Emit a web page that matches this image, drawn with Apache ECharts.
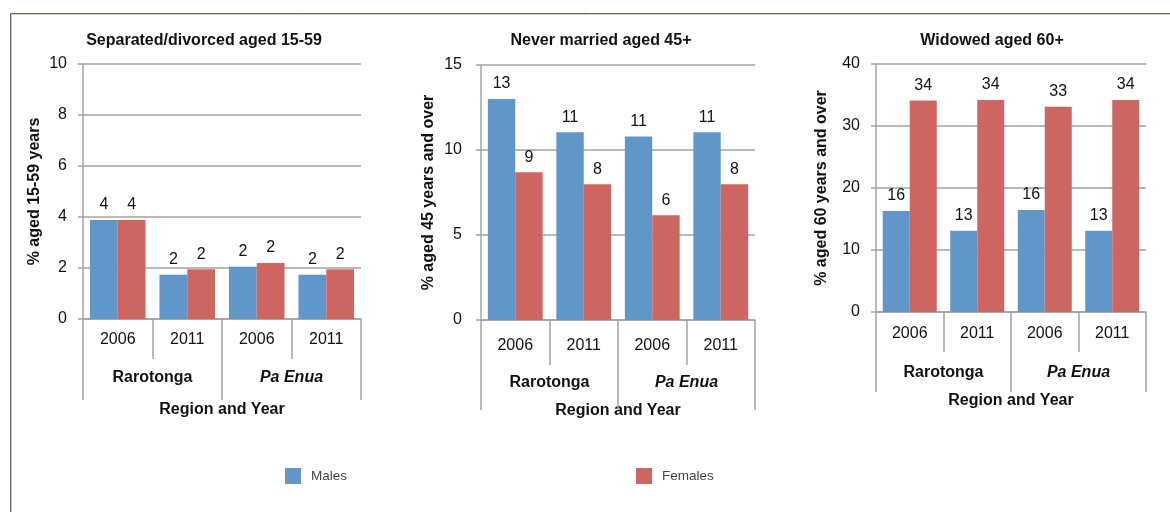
<!DOCTYPE html>
<html>
<head>
<meta charset="utf-8">
<script src="https://cdn.jsdelivr.net/npm/echarts@6/dist/echarts.min.js"></script>
<style>
html,body{margin:0;padding:0;background:#fff;}
#c{width:1170px;height:512px;}
</style>
</head>
<body>
<div id="c"></div>
<script>
// ---- data ----
const years = ['2006', '2011', '2006', '2011'];
const regions = ['Rarotonga', 'Pa Enua'];
const seriesNames = ['Males', 'Females'];
const chartTitles = ['Separated/divorced aged 15-59', 'Never married aged 45+', 'Widowed aged 60+'];
const yNames = ['% aged 15-59 years', '% aged 45 years and over', '% aged 60 years and over'];
const xName = 'Region and Year';
const sepMales = [3.88, 1.74, 2.05, 1.74];
const sepFemales = [3.88, 1.95, 2.2, 1.95];
const nevMales = [13.0, 11.04, 10.8, 11.04];
const nevFemales = [8.69, 7.98, 6.16, 7.98];
const widMales = [16.3, 13.1, 16.45, 13.1];
const widFemales = [34.1, 34.2, 33.1, 34.2];
const yMax = [10, 15, 40];
const yInterval = [2, 5, 10];

// ---- styles / layout ----
const FONT = '"Liberation Sans", Arial, sans-serif';
const BLUE = '#6196c9';
const RED = '#cd6660';
const GRID_C = '#a3a3a3';
const TXT = '#111';
const grids = [
  {left: 83, right: 809, top: 64, bottom: 193},
  {left: 481, right: 415, top: 65, bottom: 192},
  {left: 876, right: 24, top: 64, bottom: 200}
];
const titleX = [204, 601, 992];
const yearMargin = [13, 18, 14];
const yearTick = [40, 45, 40];
const regTick = [81, 90, 80];
const regMargin = [51, 55, 53];
const xNameGap = [83, 83, 81];
const yLabelMargin = [16, 19, 16];
const yNameGap = [40, 44, 46];
const males = [sepMales, nevMales, widMales];
const females = [sepFemales, nevFemales, widFemales];

const xAxes = [], yAxes = [], series = [], titles = [];
for (let i = 0; i < 3; i++) {
  titles.push({
    text: chartTitles[i], left: titleX[i], top: 33, textAlign: 'center', padding: 0,
    textStyle: {fontFamily: FONT, fontSize: 16, fontWeight: 'bold', color: TXT}
  });
  xAxes.push({
    type: 'category', gridIndex: i, data: years, position: 'bottom',
    axisLine: {show: true, lineStyle: {color: GRID_C, width: 1.5}},
    axisTick: {show: true, interval: 0, length: yearTick[i], lineStyle: {color: GRID_C, width: 1.5}},
    axisLabel: {interval: 0, margin: yearMargin[i], fontFamily: FONT, fontSize: 16, color: TXT},
    splitLine: {show: false}
  });
  xAxes.push({
    type: 'category', gridIndex: i, data: regions, position: 'bottom',
    axisLine: {show: false},
    axisTick: {show: true, interval: 0, length: regTick[i], lineStyle: {color: GRID_C, width: 1.5}},
    axisLabel: {
      interval: 0, margin: regMargin[i],
      formatter: v => v === 'Pa Enua' ? '{i|' + v + '}' : '{b|' + v + '}',
      rich: {
        b: {fontFamily: FONT, fontSize: 16, fontWeight: 'bold', color: TXT},
        i: {fontFamily: FONT, fontSize: 16, fontWeight: 'bold', fontStyle: 'italic', color: TXT}
      }
    },
    name: xName, nameLocation: 'middle', nameGap: xNameGap[i],
    nameTextStyle: {fontFamily: FONT, fontSize: 16, fontWeight: 'bold', color: TXT}
  });
  yAxes.push({
    type: 'value', gridIndex: i, min: 0, max: yMax[i], interval: yInterval[i],
    axisLine: {show: true, lineStyle: {color: GRID_C, width: 1.5}},
    axisTick: {show: true, length: 5, lineStyle: {color: GRID_C, width: 1.5}},
    axisLabel: {margin: yLabelMargin[i], fontFamily: FONT, fontSize: 16, color: TXT},
    splitLine: {show: true, lineStyle: {color: GRID_C, width: 1.5}},
    name: yNames[i], nameLocation: 'middle', nameGap: yNameGap[i],
    nameTextStyle: {fontFamily: FONT, fontSize: 16, fontWeight: 'bold', color: TXT}
  });
  const lbl = {
    show: true, position: 'top', distance: 7,
    fontFamily: FONT, fontSize: 16, color: TXT,
    formatter: p => String(Math.round(p.value))
  };
  series.push({
    name: seriesNames[0], type: 'bar', xAxisIndex: i * 2, yAxisIndex: i,
    data: males[i], barGap: '0%', barCategoryGap: '20%',
    itemStyle: {color: BLUE}, label: lbl, animation: false
  });
  series.push({
    name: seriesNames[1], type: 'bar', xAxisIndex: i * 2, yAxisIndex: i,
    data: females[i], barGap: '0%', barCategoryGap: '20%',
    itemStyle: {color: RED}, label: lbl, animation: false
  });
}

const legendCommon = {
  orient: 'horizontal', top: 468, padding: 0, icon: 'rect', itemWidth: 16, itemHeight: 16,
  textStyle: {fontFamily: FONT, fontSize: 13.5, color: '#444', padding: [0, 0, 0, 5]},
  selectedMode: false
};

const chart = echarts.init(document.getElementById('c'), null, {renderer: 'canvas'});
chart.setOption({
  animation: false,
  backgroundColor: '#fff',
  title: titles,
  grid: grids,
  xAxis: xAxes,
  yAxis: yAxes,
  series: series,
  legend: [
    Object.assign({}, legendCommon, {left: 285, data: [seriesNames[0]]}),
    Object.assign({}, legendCommon, {left: 636, data: [seriesNames[1]]})
  ],
  graphic: [
    {type: 'line', shape: {x1: 10.5, y1: 13.5, x2: 1170, y2: 13.5}, style: {stroke: '#6e6864', lineWidth: 1}, silent: true},
    {type: 'line', shape: {x1: 11.5, y1: 14.5, x2: 1170, y2: 14.5}, style: {stroke: '#dcc6bd', lineWidth: 1}, silent: true},
    {type: 'line', shape: {x1: 10.5, y1: 13.5, x2: 10.5, y2: 512}, style: {stroke: '#6e6864', lineWidth: 1}, silent: true},
    {type: 'line', shape: {x1: 11.5, y1: 14.5, x2: 11.5, y2: 512}, style: {stroke: '#dcc6bd', lineWidth: 1}, silent: true}
  ]
});
</script>
</body>
</html>
